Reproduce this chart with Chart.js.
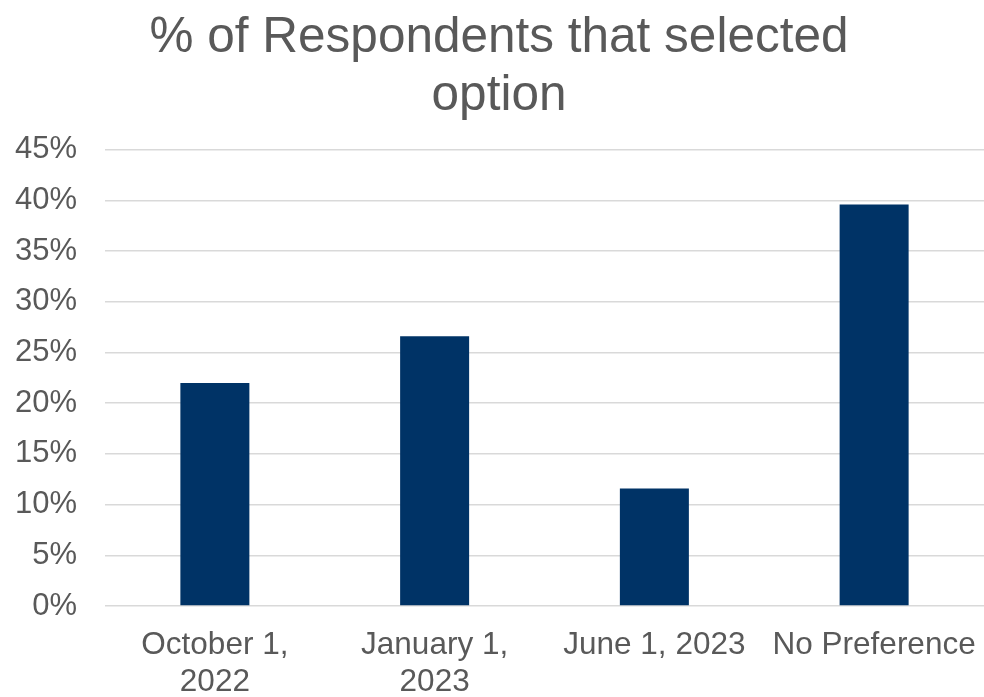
<!DOCTYPE html>
<html>
<head>
<meta charset="utf-8">
<script src="https://cdn.jsdelivr.net/npm/chart.js@4/dist/chart.umd.min.js"></script>
<style>
html,body{margin:0;padding:0;background:#fff;}
#wrap{width:984px;height:697px;position:relative;}
</style>
</head>
<body>
<div id="wrap"><canvas id="c" width="984" height="697"></canvas></div>
<script>
const categories = [["October 1,", "2022"], ["January 1,", "2023"], ["June 1, 2023"], ["No Preference"]];
const values = [22.0, 26.6, 11.6, 39.6];
const titleLines = ["% of Respondents that selected", "option"];
const yMax = 45;
const yStep = 5;

const FONT = "'Liberation Sans', Arial, sans-serif";
const TEXT = '#595959';

new Chart(document.getElementById('c'), {
  type: 'bar',
  data: {
    labels: categories,
    datasets: [{
      data: values,
      backgroundColor: '#003366',
      borderWidth: 0,
      barPercentage: 0.314,
      categoryPercentage: 1.0
    }]
  },
  options: {
    responsive: false,
    animation: false,
    devicePixelRatio: 1,
    layout: { padding: { left: 14, right: 0, top: 9, bottom: 0 } },
    plugins: {
      legend: { display: false },
      tooltip: { enabled: false },
      title: {
        display: true,
        text: titleLines,
        color: TEXT,
        font: { family: FONT, size: 49.5, weight: 'normal', lineHeight: 1.18 },
        padding: { top: 0, bottom: 24 }
      }
    },
    scales: {
      x: {
        grid: { display: false, drawTicks: false },
        border: { display: false },
        afterFit: s => { s.height = 91; s.paddingLeft = 0; s.paddingRight = 0; },
        ticks: {
          color: TEXT,
          font: { family: FONT, size: 31.5, lineHeight: 1.2 },
          padding: 20,
          maxRotation: 0,
          autoSkip: false
        }
      },
      y: {
        min: 0,
        max: yMax,
        afterFit: s => { s.width = 91; },
        grid: { color: '#d9d9d9', lineWidth: 1.6, drawTicks: false },
        border: { display: false },
        ticks: {
          stepSize: yStep,
          color: TEXT,
          font: { family: FONT, size: 31 },
          padding: 28,
          callback: v => v + '%'
        }
      }
    }
  }
});
</script>
</body>
</html>
